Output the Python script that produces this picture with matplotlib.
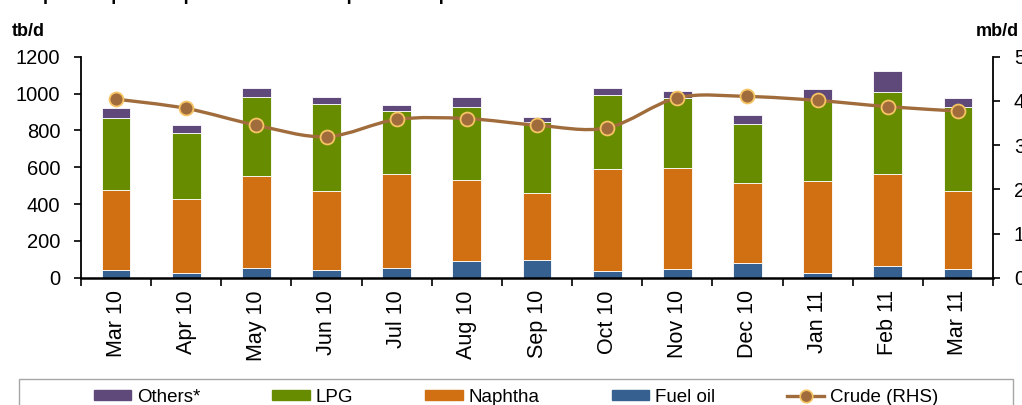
import numpy as np
import matplotlib
matplotlib.use("Agg")
import matplotlib.pyplot as plt
from matplotlib.path import Path
from matplotlib.patches import PathPatch, Rectangle, Patch
from matplotlib.lines import Line2D
from matplotlib.ticker import FixedLocator

plt.rcParams['font.family'] = ['Liberation Sans', 'DejaVu Sans']

# Monthly imports (tb/d) and crude imports (mb/d)
months = ["Mar 10", "Apr 10", "May 10", "Jun 10", "Jul 10", "Aug 10", "Sep 10",
          "Oct 10", "Nov 10", "Dec 10", "Jan 11", "Feb 11", "Mar 11"]
fuel_oil = [42, 27, 54, 42, 54, 89, 98, 35, 49, 82, 27, 65, 49]
naphtha = [436, 402, 500, 427, 509, 443, 363, 553, 547, 434, 498, 498, 420]
lpg = [387, 358, 429, 476, 342, 395, 384, 402, 380, 320, 440, 444, 459]
others = [55, 40, 47, 38, 31, 56, 29, 40, 38, 46, 58, 117, 48]
crude = [4.04, 3.83, 3.45, 3.19, 3.58, 3.60, 3.45, 3.39, 4.07, 4.10, 4.01, 3.87, 3.77]

left_ticks = [0, 200, 400, 600, 800, 1000, 1200]
right_ticks = [0, 1, 2, 3, 4, 5]

c_others = "#5F497A"
c_lpg = "#688C00"
c_naphtha = "#D07012"
c_fuel = "#35608F"
c_crude = "#A06C3C"
c_crude_edge = "#F6C463"

W, H = 1022, 405
fig = plt.figure(figsize=(W / 100, H / 100), dpi=100)
ax = fig.add_axes([81 / W, 1 - 277.7 / H, (993 - 81) / W, (277.7 - 56.7) / H])

x = np.arange(len(months))
bw = 0.41
edge = dict(edgecolor="#FFFFFF", linewidth=0.6)
fo = np.array(fuel_oil, float)
na = np.array(naphtha, float)
lp = np.array(lpg, float)
ot = np.array(others, float)
ax.bar(x, fo, bw, color=c_fuel, **edge)
ax.bar(x, na, bw, bottom=fo, color=c_naphtha, **edge)
ax.bar(x, lp, bw, bottom=fo + na, color=c_lpg, **edge)
ax.bar(x, ot, bw, bottom=fo + na + lp, color=c_others, **edge)

ax.set_xlim(-0.5, len(months) - 0.5)
ax.set_ylim(0, 1200)
ax.set_yticks(left_ticks)
ax.set_yticklabels([str(v) for v in left_ticks])
ax.set_xticks(x)
ax.set_xticklabels(months, rotation=90)
ax.xaxis.set_minor_locator(FixedLocator(np.arange(-0.5, len(months), 1.0)))
ax.tick_params(axis='x', which='major', length=0, labelsize=15.5, pad=9)
ax.tick_params(axis='x', which='minor', length=6, width=1.2, direction='out')
ax.tick_params(axis='y', length=5, width=1.2, direction='out', labelsize=14.5, pad=10)
ax.spines["top"].set_visible(False)
ax.spines["left"].set_linewidth(1.3)
ax.spines["bottom"].set_linewidth(1.8)
ax.spines["right"].set_visible(False)

ax2 = ax.twinx()
ax2.set_ylim(0, 5)
ax2.set_yticks(right_ticks)
ax2.set_yticklabels([str(v) for v in right_ticks])
ax2.tick_params(axis='y', length=5, width=1.2, direction='out', labelsize=14.5, pad=10)
ax2.spines["top"].set_visible(False)
ax2.spines["left"].set_visible(False)
ax2.spines["bottom"].set_visible(False)
ax2.spines["right"].set_linewidth(1.3)

# Smoothed crude line (Catmull-Rom segments as cubic Bezier curves)
pts = np.column_stack([x, np.array(crude, float)])
verts = [pts[0]]
codes = [Path.MOVETO]
n = len(pts)
for i in range(n - 1):
    p0 = pts[i - 1] if i > 0 else pts[i]
    p1 = pts[i]
    p2 = pts[i + 1]
    p3 = pts[i + 2] if i + 2 < n else pts[i + 1]
    verts += [p1 + (p2 - p0) / 6, p2 - (p3 - p1) / 6, p2]
    codes += [Path.CURVE4] * 3
ax2.add_patch(PathPatch(Path(verts, codes), facecolor="none", edgecolor=c_crude,
                        linewidth=2.4, capstyle="round", zorder=3))
ax2.plot(x, crude, linestyle="none", marker="o", markersize=10,
         markerfacecolor=c_crude, markeredgecolor=c_crude_edge,
         markeredgewidth=1.3, zorder=4)

fig.text(12 / W, 1 - 36 / H, "tb/d", fontsize=13, fontweight="bold")
fig.text(1019 / W, 1 - 36 / H, "mb/d", fontsize=13, fontweight="bold", ha="right")
# Title sits above the top edge; only its lowest strokes fall inside the canvas
fig.text(12 / W, 1 + 0.2 / H, "Graph 3: Japan's imports of crude and petroleum products",
         fontsize=13, fontweight="bold", va="baseline")

# Legend with its frame running off the bottom edge
fig.patches.append(Rectangle((19 / W, -0.2), (1013 - 19) / W, (H - 379) / H + 0.2,
                             transform=fig.transFigure, fill=False,
                             edgecolor="#A6A6A6", linewidth=1.0))
handles = [Patch(color=c_others), Patch(color=c_lpg), Patch(color=c_naphtha),
           Patch(color=c_fuel),
           Line2D([], [], color=c_crude, linewidth=2.4, marker="o", markersize=9,
                  markerfacecolor=c_crude, markeredgecolor=c_crude_edge,
                  markeredgewidth=1.2)]
labels = ["Others*", "LPG", "Naphtha", "Fuel oil", "Crude (RHS)"]
fig.legend(handles, labels, loc="center", bbox_to_anchor=(516 / W, 1 - 397 / H),
           ncol=5, frameon=False, fontsize=13.5, handlelength=2.0, handleheight=0.5,
           handletextpad=0.3, columnspacing=3.85, borderpad=0)

fig.savefig("out.png", dpi=100)
